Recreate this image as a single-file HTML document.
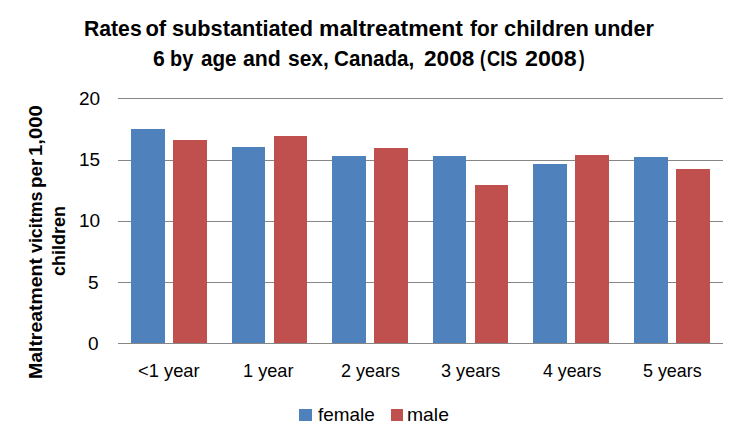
<!DOCTYPE html>
<html>
<head>
<meta charset="utf-8">
<style>
html,body{margin:0;padding:0;background:#fff;}
body{width:741px;height:442px;position:relative;overflow:hidden;font-family:"Liberation Sans",sans-serif;color:#000;}
.t{position:absolute;white-space:nowrap;line-height:1;transform-origin:0 0;}
.g{position:absolute;left:118px;width:605px;height:1px;background:#868686;}
.b{position:absolute;background:#4f81bd;}
.r{position:absolute;background:#c0504d;}
</style>
</head>
<body>
<div class="t" style="left:83.74px;top:18.00px;font-size:22px;font-weight:bold;transform:scaleX(0.9621)">Rates</div>
<div class="t" style="left:145.40px;top:18.00px;font-size:22px;font-weight:bold;transform:scaleX(1.0000)">of</div>
<div class="t" style="left:172.21px;top:18.00px;font-size:22px;font-weight:bold;transform:scaleX(0.9865)">substantiated</div>
<div class="t" style="left:319.46px;top:18.00px;font-size:22px;font-weight:bold;transform:scaleX(1.0416)">maltreatment</div>
<div class="t" style="left:469.70px;top:18.00px;font-size:22px;font-weight:bold;transform:scaleX(0.9483)">for</div>
<div class="t" style="left:503.81px;top:18.00px;font-size:22px;font-weight:bold;transform:scaleX(0.9928)">children</div>
<div class="t" style="left:594.02px;top:18.00px;font-size:22px;font-weight:bold;transform:scaleX(0.9800)">under</div>
<div class="t" style="left:153.04px;top:48.00px;font-size:22px;font-weight:bold;transform:scaleX(0.9636)">6</div>
<div class="t" style="left:170.40px;top:48.00px;font-size:22px;font-weight:bold;transform:scaleX(0.9040)">by</div>
<div class="t" style="left:201.06px;top:48.00px;font-size:22px;font-weight:bold;transform:scaleX(0.9361)">age</div>
<div class="t" style="left:243.03px;top:48.00px;font-size:22px;font-weight:bold;transform:scaleX(0.9676)">and</div>
<div class="t" style="left:287.65px;top:48.00px;font-size:22px;font-weight:bold;transform:scaleX(0.9537)">sex,</div>
<div class="t" style="left:334.16px;top:48.00px;font-size:22px;font-weight:bold;transform:scaleX(0.9386)">Canada,</div>
<div class="t" style="left:424.37px;top:48.00px;font-size:22px;font-weight:bold;transform:scaleX(1.0277)">2008</div>
<div class="t" style="left:479.73px;top:48.00px;font-size:22px;font-weight:bold;transform:scaleX(0.7667)">(</div>
<div class="t" style="left:487.17px;top:48.00px;font-size:22px;font-weight:bold;transform:scaleX(0.8314)">CIS</div>
<div class="t" style="left:525.24px;top:48.00px;font-size:22px;font-weight:bold;transform:scaleX(1.0553)">2008</div>
<div class="t" style="left:578.70px;top:48.00px;font-size:22px;font-weight:bold;transform:scaleX(0.7667)">)</div>
<div class="g" style="top:98px"></div>
<div class="g" style="top:160px"></div>
<div class="g" style="top:221px"></div>
<div class="g" style="top:282px"></div>
<div class="g" style="top:343px"></div>
<div class="b" style="left:131px;width:34px;top:129px;height:214px"></div>
<div class="r" style="left:173px;width:34px;top:140px;height:203px"></div>
<div class="b" style="left:232px;width:33px;top:147px;height:196px"></div>
<div class="r" style="left:274px;width:33px;top:136px;height:207px"></div>
<div class="b" style="left:332px;width:34px;top:156px;height:187px"></div>
<div class="r" style="left:374px;width:34px;top:148px;height:195px"></div>
<div class="b" style="left:433px;width:33px;top:156px;height:187px"></div>
<div class="r" style="left:475px;width:33px;top:185px;height:158px"></div>
<div class="b" style="left:533px;width:34px;top:164px;height:179px"></div>
<div class="r" style="left:575px;width:34px;top:155px;height:188px"></div>
<div class="b" style="left:634px;width:34px;top:157px;height:186px"></div>
<div class="r" style="left:676px;width:34px;top:169px;height:174px"></div>
<div class="t" id="y20" style="left:79px;top:89px;font-size:19px;">20</div>
<div class="t" id="y15" style="left:79px;top:150px;font-size:19px;">15</div>
<div class="t" id="y10" style="left:79px;top:211px;font-size:19px;">10</div>
<div class="t" id="y5" style="left:88px;top:273px;font-size:19px;">5</div>
<div class="t" id="y0" style="left:88px;top:334px;font-size:19px;">0</div>
<div class="t" style="left:26.5px;top:378.98px;font-size:18px;font-weight:bold;transform:rotate(-90deg) scaleX(1.0793)">Maltreatment</div>
<div class="t" style="left:26.5px;top:253.40px;font-size:18px;font-weight:bold;transform:rotate(-90deg) scaleX(0.9902)">vicitms</div>
<div class="t" style="left:26.5px;top:188.45px;font-size:18px;font-weight:bold;transform:rotate(-90deg) scaleX(1.0481)">per</div>
<div class="t" style="left:26.5px;top:156.33px;font-size:18px;font-weight:bold;transform:rotate(-90deg) scaleX(1.1256)">1,000</div>
<div class="t" id="yt2" style="left:50px;top:276px;font-size:18px;font-weight:bold;transform:rotate(-90deg);">children</div>
<div class="t c" style="left:137.71px;top:361.5px;font-size:18.5px;transform:scaleX(0.9902)">&lt;1 year</div>
<div class="t c" style="left:242.82px;top:361.5px;font-size:18.5px;transform:scaleX(0.9820)">1 year</div>
<div class="t c" style="left:341.13px;top:361.5px;font-size:18.5px;transform:scaleX(0.9729)">2 years</div>
<div class="t c" style="left:440.82px;top:361.5px;font-size:18.5px;transform:scaleX(0.9780)">3 years</div>
<div class="t c" style="left:542.75px;top:361.5px;font-size:18.5px;transform:scaleX(0.9608)">4 years</div>
<div class="t c" style="left:643.03px;top:361.5px;font-size:18.5px;transform:scaleX(0.9661)">5 years</div>
<div class="b" style="left:299px;top:409px;width:13px;height:12px"></div>
<div class="r" style="left:391px;top:409px;width:12px;height:12px"></div>
<div class="t c" style="left:317.50px;top:405px;font-size:19px;transform:scaleX(0.9946)">female</div>
<div class="t c" style="left:407.48px;top:405px;font-size:19px;transform:scaleX(1.0179)">male</div>
</body>
</html>
